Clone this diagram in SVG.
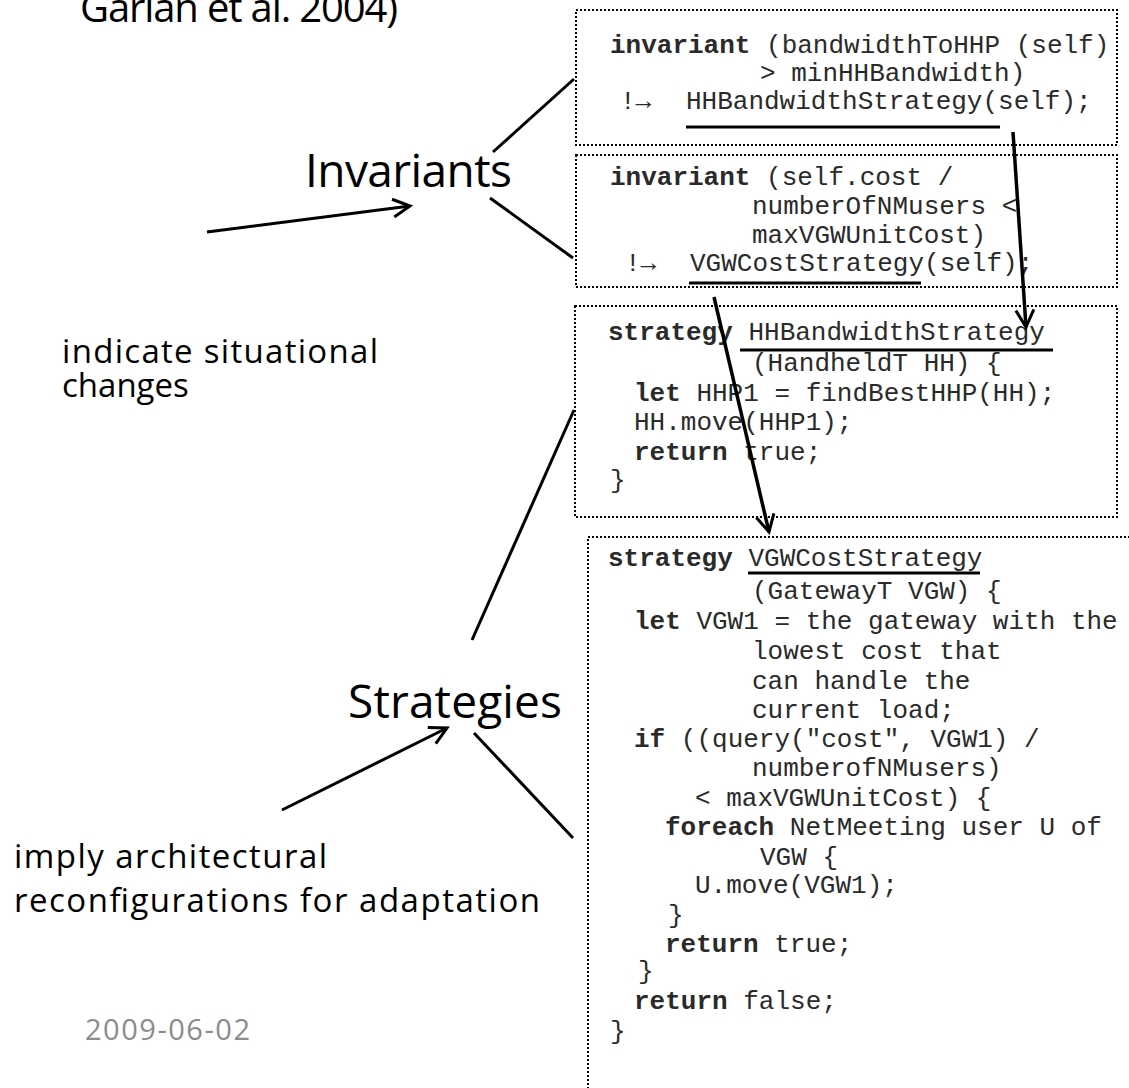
<svg xmlns="http://www.w3.org/2000/svg" width="1129" height="1088" viewBox="0 0 1129 1088">
<defs>
<style>
.lbl{font-family:"Open Sans","Noto Sans",sans-serif;fill:#000}
.code{font-family:"Liberation Mono","DejaVu Sans Mono",monospace;font-size:26px;fill:#2a2a2a}
.kw{font-weight:bold}
.box{fill:#fff;stroke:#000;stroke-width:2;stroke-dasharray:2 2}
.ln{stroke:#000;stroke-width:3;fill:none}
.ul{stroke:#000;stroke-width:3}
</style>
<marker id="open" viewBox="0 0 22 22" refX="19" refY="11" markerWidth="22" markerHeight="22" markerUnits="userSpaceOnUse" orient="auto">
<path d="M2,2 L19,11 L2,20" fill="none" stroke="#000" stroke-width="3"/>
</marker>
</defs>
<rect width="1129" height="1088" fill="#fff"/>

<g id="title"><text class="lbl" x="80" y="22" font-size="40" textLength="318">Garlan et al. 2004)</text></g>

<g id="box1">
<rect class="box" x="576" y="10" width="541" height="135"/>
<text class="code" x="610" y="53"><tspan class="kw">invariant</tspan> (bandwidthToHHP (self)</text>
<text class="code" x="760" y="81">&gt; minHHBandwidth)</text>
<text class="code" x="620" y="109">!→ <tspan x="686">HHBandwidthStrategy(self);</tspan></text>
<line class="ul" x1="686" y1="127" x2="1000" y2="127"/>
</g>

<g id="box2">
<rect class="box" x="576" y="155" width="541" height="132"/>
<text class="code" x="610" y="185"><tspan class="kw">invariant</tspan> (self.cost /</text>
<text class="code" x="752" y="214">numberOfNMusers &lt;</text>
<text class="code" x="752" y="243">maxVGWUnitCost)</text>
<text class="code" x="625" y="271">!→ <tspan x="690">VGWCostStrategy(self);</tspan></text>
<line class="ul" x1="689" y1="283" x2="921" y2="283"/>
</g>

<g id="box3">
<rect class="box" x="575" y="306" width="542" height="211"/>
<text class="code" x="608" y="340"><tspan class="kw">strategy</tspan> HHBandwidthStrategy</text>
<text class="code" x="752" y="371">(HandheldT HH) {</text>
<text class="code" x="634" y="401"><tspan class="kw">let</tspan> HHP1 = findBestHHP(HH);</text>
<text class="code" x="634" y="430">HH.move(HHP1);</text>
<text class="code" x="634" y="460"><tspan class="kw">return</tspan> true;</text>
<text class="code" x="610" y="488">}</text>
<line class="ul" x1="740" y1="350" x2="1053" y2="350"/>
</g>

<g id="box4">
<rect class="box" x="588" y="537" width="580" height="600"/>
<text class="code" x="608" y="566"><tspan class="kw">strategy</tspan> VGWCostStrategy</text>
<text class="code" x="752" y="599">(GatewayT VGW) {</text>
<text class="code" x="634" y="629"><tspan class="kw">let</tspan> VGW1 = the gateway with the</text>
<text class="code" x="752" y="659">lowest cost that</text>
<text class="code" x="752" y="689">can handle the</text>
<text class="code" x="752" y="718">current load;</text>
<text class="code" x="634" y="747"><tspan class="kw">if</tspan> ((query("cost", VGW1) /</text>
<text class="code" x="752" y="776">numberofNMusers)</text>
<text class="code" x="695" y="806">&lt; maxVGWUnitCost) {</text>
<text class="code" x="665" y="835"><tspan class="kw">foreach</tspan> NetMeeting user U of</text>
<text class="code" x="760" y="865">VGW {</text>
<text class="code" x="695" y="893">U.move(VGW1);</text>
<text class="code" x="668" y="923">}</text>
<text class="code" x="665" y="952"><tspan class="kw">return</tspan> true;</text>
<text class="code" x="638" y="979">}</text>
<text class="code" x="634" y="1009"><tspan class="kw">return</tspan> false;</text>
<text class="code" x="610" y="1039">}</text>
<line class="ul" x1="748" y1="573" x2="980" y2="573"/>
</g>

<g id="invariants"><text class="lbl" x="305" y="187" font-size="46" textLength="207">Invariants</text></g>
<g id="indicate">
<text class="lbl" x="62" y="363" font-size="33" textLength="316">indicate situational</text>
<text class="lbl" x="62" y="397" font-size="33">changes</text>
</g>
<g id="strategies"><text class="lbl" x="348" y="718" font-size="46" textLength="214">Strategies</text></g>
<g id="imply">
<text class="lbl" x="14" y="868" font-size="33" textLength="313">imply architectural</text>
<text class="lbl" x="14" y="912" font-size="33" textLength="526">reconfigurations for adaptation</text>
</g>
<g id="date"><text class="lbl" x="85" y="1040" font-size="29" style="fill:#8c8c8c" textLength="165">2009-06-02</text></g>

<g id="connectors">
<line class="ln" x1="493" y1="152" x2="574" y2="79"/>
<line class="ln" x1="490" y1="198" x2="573" y2="258"/>
<line class="ln" x1="207" y1="232" x2="410" y2="206" marker-end="url(#open)"/>
<line class="ln" x1="472" y1="640" x2="574" y2="410"/>
<line class="ln" x1="474" y1="733" x2="573" y2="838"/>
<line class="ln" x1="282" y1="810" x2="447" y2="728" marker-end="url(#open)"/>
<line class="ln" x1="1013" y1="132" x2="1026" y2="327" marker-end="url(#open)" style="stroke-width:3.5"/>
<line class="ln" x1="714" y1="297" x2="769" y2="532" marker-end="url(#open)" style="stroke-width:3.5"/>
</g>
</svg>
